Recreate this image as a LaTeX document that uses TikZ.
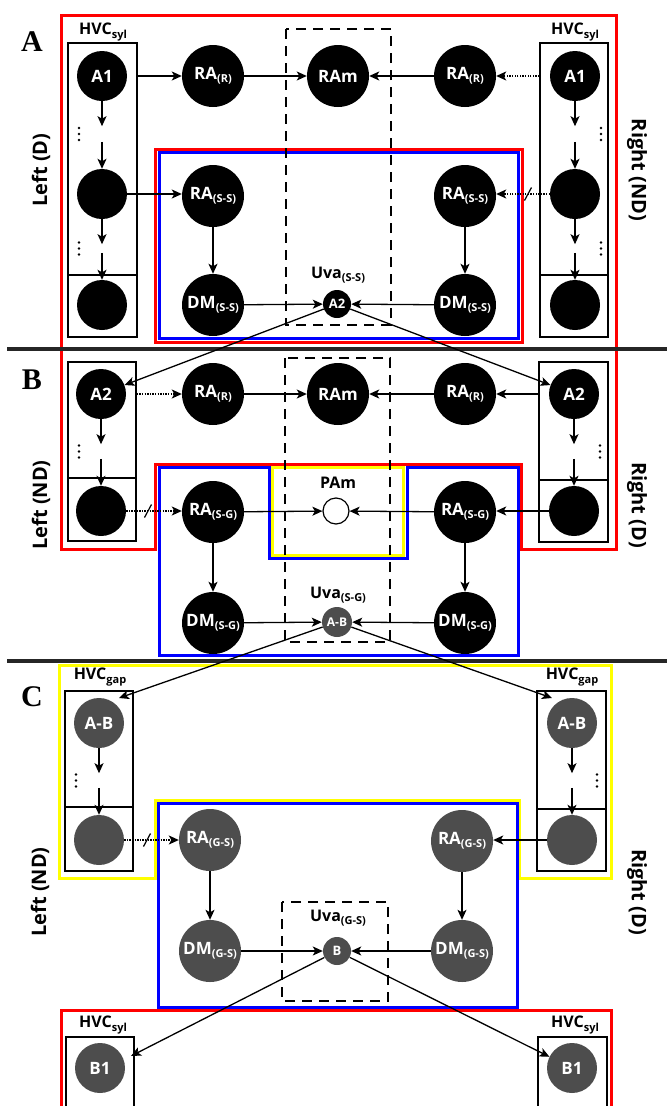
\documentclass[tikz,border=0pt]{standalone}
\usepackage{fontspec}
\setmainfont{Open Sans}
\newfontfamily\panelfont{Liberation Serif}
\usetikzlibrary{arrows.meta,calc}
\definecolor{ngrey}{RGB}{77,77,77}
\definecolor{cred}{RGB}{255,0,0}
\definecolor{cblue}{RGB}{0,0,255}
\definecolor{cyellow}{RGB}{255,255,0}
\newcommand\lsub[1]{{\fontsize{11}{11}\selectfont\raisebox{-3.5pt}{#1}}}
% chain of two arrows with vertical dots between: #1 top node, #2 bottom node, #3 x offset of dots, #4 prefix
\newcommand\hvcchain[4]{%
  \path (#1.south) ++(0,25) coordinate (#4a);
  \path (#2.north) ++(0,-27) coordinate (#4b);
  \draw[arr] (#1.south) -- (#4a);
  \draw[arr] (#4b) -- (#2.north);
  \foreach \d in {-6,0,6}{\fill ($(#4a)!.5!(#4b)+(#3,\d)$) circle (1.3pt);}
}
\newcommand\slashmark[1]{\draw[line width=1.2pt] ($(#1)+(-3.5,6.5)$) -- ($(#1)+(3.5,-6.5)$);}
\begin{document}
\begin{tikzpicture}[x=1pt,y=-1pt,
  big/.style={circle,fill=black,minimum size=62pt,inner sep=0pt,text=white,font=\bfseries\fontsize{17}{17}\selectfont},
  mid/.style={big,minimum size=50pt},
  sm/.style={big,minimum size=28pt,font=\bfseries\fontsize{13}{13}\selectfont},
  gr/.style={fill=ngrey},
  openc/.style={circle,draw=black,fill=white,line width=1.2pt,minimum size=26pt,inner sep=0pt},
  hvcbox/.style={draw=black,line width=1.6pt,inner sep=0pt},
  arr/.style={-{Stealth[length=10pt,width=9pt,inset=2.5pt]},line width=1.3pt},
  dotarr/.style={arr,dash pattern=on 1.3pt off 1.3pt},
  lbl/.style={font=\bfseries\fontsize{16}{16}\selectfont,text=black,inner sep=0pt},
  side/.style={font=\bfseries\fontsize{20}{20}\selectfont,inner sep=0pt},
  panel/.style={font=\panelfont\bfseries\fontsize{30}{30}\selectfont,inner sep=0pt},
  dashbox/.style={draw=black,line width=1.8pt,dash pattern=on 10pt off 7pt},
  redl/.style={draw=cred,line width=3pt},
  bluel/.style={draw=cblue,line width=3pt},
  yell/.style={draw=cyellow,line width=3pt},
  divider/.style={line width=4.5pt,draw=black!85}
]
\useasboundingbox (0,0) rectangle (667,1106);

%% ---------- coloured regions ----------
% panel A/B red outline
\draw[redl] (61,15) -- (616,15) -- (616,549) -- (521,549) -- (521,464) -- (155,464) -- (155,549) -- (61,549) -- cycle;
% panel A inner red/blue
\draw[redl] (155,149) rectangle (522,342);
\draw[bluel] (159,152) rectangle (518,338);
% panel B blue with notch, yellow PAm box
\draw[yell] (272,467) rectangle (403,555);
\draw[bluel] (159,467) -- (269,467) -- (269,558) -- (407,558) -- (407,467) -- (518,467) -- (518,655) -- (159,655) -- cycle;
% panel C
\draw[yell] (59,665) -- (611,665) -- (611,878) -- (519,878) -- (519,800) -- (155,800) -- (155,878) -- (59,878) -- cycle;
\draw[bluel] (158,803) rectangle (517,1007);
\draw[redl] (61,1112) -- (61,1010) -- (611,1010) -- (611,1112);

% dashed boxes
\draw[dashbox] (286,29) rectangle (391,325);
\draw[dashbox] (285,358) rectangle (390,642);
\draw[dashbox] (282,902) rectangle (388,1001);

% dividers
\draw[divider] (7,349) -- (667,349);
\draw[divider] (7,661) -- (667,661);

%% ---------- labels ----------
\node[panel] (pA) at (32,42) {A};
\node[panel] (pB) at (32,380) {B};
\node[panel] (pC) at (32,697) {C};
\node[side,rotate=90] (sAL) at (41,170) {Left (D)};
\node[side,rotate=-90] (sAR) at (637,170) {Right (ND)};
\node[side,rotate=90] (sBL) at (41,505) {Left (ND)};
\node[side,rotate=-90] (sBR) at (637,505) {Right (D)};
\node[side,rotate=90] (sCL) at (40,892) {Left (ND)};
\node[side,rotate=-90] (sCR) at (637,892) {Right (D)};

%% ---------- panel A ----------
\node[hvcbox,minimum width=69pt,minimum height=294pt] (boxAL) at (102.5,190) {};
\node[hvcbox,minimum width=68pt,minimum height=294pt] (boxAR) at (574,190) {};
\draw[line width=1.6pt] (boxAL.west |- 0,275) -- (boxAL.east |- 0,275);
\draw[line width=1.6pt] (boxAR.west |- 0,275) -- (boxAR.east |- 0,275);
\node[lbl] (hAL) at (103,32) {HVC\lsub{syl}};
\node[lbl] (hAR) at (575,32) {HVC\lsub{syl}};

\node[mid] (A1L) at (102,76) {A1};
\node[mid] (mAL) at (102,194) {};
\node[mid] (bAL) at (102,305) {};
\node[mid] (A1R) at (575,76) {A1};
\node[mid] (mAR) at (575,194) {};
\node[mid] (bAR) at (575,305) {};
\node[big] (RARL) at (213,76) {RA\lsub{(R)}};
\node[big] (RAmA) at (338,76) {RAm};
\node[big] (RARR) at (465,76) {RA\lsub{(R)}};
\node[big] (RASSL) at (213,196) {RA\lsub{(S-S)}};
\node[big] (RASSR) at (465,196) {RA\lsub{(S-S)}};
\node[big] (DMSSL) at (213,305) {DM\lsub{(S-S)}};
\node[big] (DMSSR) at (465,305) {DM\lsub{(S-S)}};
\node[sm] (A2a) at (337,304) {A2};
\node[lbl] (uA) at (338,275) {Uva\lsub{(S-S)}};

\hvcchain{A1L}{mAL}{-23}{cA1}
\hvcchain{mAL}{bAL}{-23}{cA2}
\hvcchain{A1R}{mAR}{26}{cA3}
\hvcchain{mAR}{bAR}{26}{cA4}
\draw[arr] (A1L -| boxAL.east) -- (RARL);
\draw[arr] (RARL) -- (RAmA);
\draw[arr] (RARR) -- (RAmA);
\draw[dotarr] (A1R -| boxAR.west) -- (RARR);
\draw[arr] (mAL) -- (mAL -| RASSL.west);
\draw[dotarr] (mAR) -- (mAR -| RASSR.east);
\coordinate (sl1) at (528,194);
\slashmark{sl1}
\draw[arr] (RASSL) -- (DMSSL);
\draw[arr] (RASSR) -- (DMSSR);
\draw[arr] (DMSSL) -- (A2a);
\draw[arr] (DMSSR) -- (A2a);

%% ---------- panel B ----------
\node[hvcbox,minimum width=68pt,minimum height=179pt] (boxBL) at (102,451.5) {};
\node[hvcbox,minimum width=69pt,minimum height=180pt] (boxBR) at (573.5,452) {};
\draw[line width=1.6pt] (boxBL.west |- 0,478) -- (boxBL.east |- 0,478);
\draw[line width=1.6pt] (boxBR.west |- 0,480) -- (boxBR.east |- 0,480);

\node[mid] (A2bL) at (101,394) {A2};
\node[mid] (bBL) at (101,511) {};
\node[mid] (A2bR) at (574,394) {A2};
\node[mid] (bBR) at (574,511) {};
\node[big] (RARBL) at (213,394) {RA\lsub{(R)}};
\node[big] (RAmB) at (338,394) {RAm};
\node[big] (RARBR) at (465,394) {RA\lsub{(R)}};
\node[big] (RASGL) at (213,512) {RA\lsub{(S-G)}};
\node[openc] (PAm) at (336,511) {};
\node[lbl] (lPAm) at (338,483) {PAm};
\node[big] (RASGR) at (465,512) {RA\lsub{(S-G)}};
\node[big] (DMSGL) at (213,623) {DM\lsub{(S-G)}};
\node[big] (DMSGR) at (465,623) {DM\lsub{(S-G)}};
\node[sm,gr,minimum size=30pt,font=\bfseries\fontsize{12}{12}\selectfont] (ABb) at (337,622) {A-B};
\node[lbl] (uB) at (338,595) {Uva\lsub{(S-G)}};

\draw[arr] (A2a) -- (A2bL);
\draw[arr] (A2a) -- (A2bR);
\hvcchain{A2bL}{bBL}{-22}{cB1}
\hvcchain{A2bR}{bBR}{26}{cB2}
\draw[dotarr] (A2bL -| boxBL.east) -- (RARBL);
\draw[arr] (RARBL) -- (RAmB);
\draw[arr] (RARBR) -- (RAmB);
\draw[arr] (A2bR -| boxBR.west) -- (RARBR);
\draw[dotarr] (bBL) -- (bBL -| RASGL.west);
\coordinate (sl2) at (148,511);
\slashmark{sl2}
\draw[arr] (RASGL) -- (PAm);
\draw[arr] (RASGR) -- (PAm);
\draw[arr] (bBR) -- (bBR -| RASGR.east);
\draw[arr] (RASGL) -- (DMSGL);
\draw[arr] (RASGR) -- (DMSGR);
\draw[arr] (DMSGL) -- (ABb);
\draw[arr] (DMSGR) -- (ABb);

%% ---------- panel C ----------
\node[hvcbox,minimum width=68pt,minimum height=180pt] (boxCL) at (99,781) {};
\node[hvcbox,minimum width=69pt,minimum height=180pt] (boxCR) at (571.5,781) {};
\draw[line width=1.6pt] (boxCL.west |- 0,807) -- (boxCL.east |- 0,807);
\draw[line width=1.6pt] (boxCR.west |- 0,809) -- (boxCR.east |- 0,809);
\node[lbl] (hCL) at (100,677) {HVC\lsub{gap}};
\node[lbl] (hCR) at (572,677) {HVC\lsub{gap}};

\node[mid,gr] (ABcL) at (99,723) {A-B};
\node[mid,gr] (bCL) at (99,840) {};
\node[mid,gr] (ABcR) at (572,723) {A-B};
\node[mid,gr] (bCR) at (572,840) {};
\node[big,gr] (RAGSL) at (210,840) {RA\lsub{(G-S)}};
\node[big,gr] (RAGSR) at (462,841) {RA\lsub{(G-S)}};
\node[big,gr] (DMGSL) at (210,951) {DM\lsub{(G-S)}};
\node[big,gr] (DMGSR) at (462,951) {DM\lsub{(G-S)}};
\node[sm,gr] (Bc) at (337,951) {B};
\node[lbl] (uC) at (338,918) {Uva\lsub{(G-S)}};

\node[hvcbox,minimum width=68pt,minimum height=70pt] (boxDL) at (100,1072) {};
\node[hvcbox,minimum width=69pt,minimum height=70pt] (boxDR) at (572.5,1072) {};
\node[lbl] (hDL) at (103,1025) {HVC\lsub{syl}};
\node[lbl] (hDR) at (575,1025) {HVC\lsub{syl}};
\node[mid,gr] (B1L) at (100,1068) {B1};
\node[mid,gr] (B1R) at (572,1068) {B1};

\coordinate (tCL) at (119,698);
\coordinate (tCR) at (552,698);
\coordinate (tB1L) at (131,1056);
\draw[arr] (ABb) -- (tCL);
\draw[arr] (ABb) -- (tCR);
\hvcchain{ABcL}{bCL}{-23}{cC1}
\hvcchain{ABcR}{bCR}{25}{cC2}
\draw[dotarr] (bCL) -- (bCL -| RAGSL.west);
\coordinate (sl3) at (147,840);
\slashmark{sl3}
\draw[arr] (bCR) -- (bCR -| RAGSR.east);
\draw[arr] (RAGSL) -- (DMGSL);
\draw[arr] (RAGSR) -- (DMGSR);
\draw[arr] (DMGSL) -- (Bc);
\draw[arr] (DMGSR) -- (Bc);
\draw[arr] (Bc) -- (tB1L);
\draw[arr] (Bc) -- (B1R);
\end{tikzpicture}
\end{document}
